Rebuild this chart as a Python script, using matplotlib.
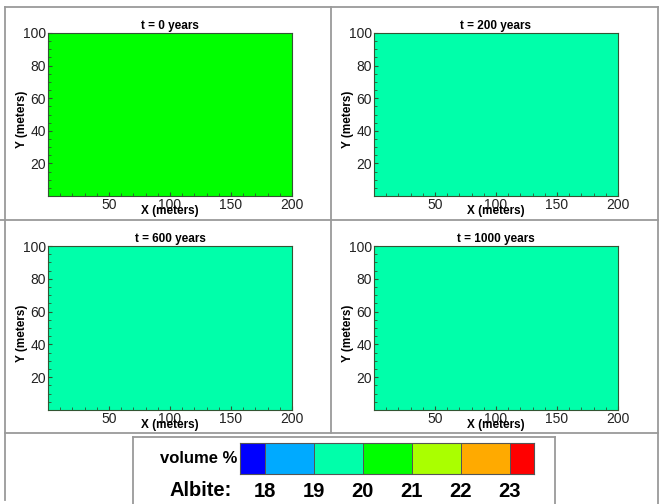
import numpy as np
import matplotlib
matplotlib.use("Agg")
import matplotlib.pyplot as plt
from matplotlib.colors import ListedColormap, BoundaryNorm
from matplotlib.lines import Line2D

plt.rcParams["font.family"] = ["Liberation Sans", "DejaVu Sans"]

# Daten
times = [0, 200, 600, 1000]
albite = [20.5, 19.5, 19.5, 19.5]          # Volumen-% Albit (gleichmaessig im Feld)
levels = [17.5, 18, 19, 20, 21, 22, 23, 23.5]
level_labels = [18, 19, 20, 21, 22, 23]
colors = ["#0000ff", "#00aaff", "#00ffaa", "#00ff00", "#aaff00", "#ffaa00", "#ff0000"]
x_grid = [0, 200]
y_grid = [0, 100]

W, H = 660, 504
cmap = ListedColormap(colors)
norm = BoundaryNorm(levels, cmap.N)

fig = plt.figure(figsize=(W / 100, H / 100), dpi=100)


def box(left, top, right, bottom):
    return [left / W, 1 - bottom / H, (right - left) / W, (bottom - top) / H]


# Rahmenlinien
def fline(xs, ys):
    fig.add_artist(Line2D([x / W for x in xs], [1 - y / H for y in ys],
                          color="#9a9a9a", lw=1.3, transform=fig.transFigure))


fline([5, 658], [7, 7])
fline([5, 5], [7, 500])
fline([658, 658], [7, 504])
fline([331, 331], [7, 433])
fline([0, 658], [220, 220])
fline([5, 658], [433, 433])
fline([133, 133], [437, 504])
fline([555, 555], [437, 504])
fline([133, 555], [437, 437])

panels = [(48, 33, 292, 196), (374, 33, 618, 196),
          (48, 246, 292, 410), (374, 246, 618, 410)]

for (l, t, r, b), tt, val in zip(panels, times, albite):
    ax = fig.add_axes(box(l, t, r, b))
    field = np.full((1, 1), val)
    ax.pcolormesh(x_grid, y_grid, field, cmap=cmap, norm=norm)
    ax.set_xlim(0, 200)
    ax.set_ylim(0, 100)
    ax.set_xticks([50, 100, 150, 200])
    ax.set_yticks([20, 40, 60, 80, 100])
    ax.set_xticks(np.arange(0, 201, 10), minor=True)
    ax.set_yticks(np.arange(0, 101, 5), minor=True)
    ax.tick_params(which="both", direction="in", color="#335533", labelsize=10,
                   labelcolor="#222222", pad=1.5)
    ax.tick_params(which="major", length=3)
    ax.tick_params(which="minor", length=2)
    for s in ax.spines.values():
        s.set_color("#335533")
        s.set_linewidth(0.8)
    ax.set_title(f"t = {tt} years", fontsize=8.5, fontweight="bold", pad=3)
    ax.set_xlabel("X (meters)", fontsize=8.5, fontweight="bold")
    ax.xaxis.label.set_va("center")
    ax.xaxis.set_label_coords(0.5, -15 / (b - t))
    ax.set_ylabel("Y (meters)", fontsize=8.5, fontweight="bold")
    ax.yaxis.label.set_va("center")
    ax.yaxis.set_label_coords(-26 / (r - l), 0.47)

# Farbskala
centers = [(a + b) / 2 for a, b in zip(levels[:-1], levels[1:])]
cax = fig.add_axes(box(240, 443, 534, 474))
cax.pcolormesh(levels, [0, 1], np.array([centers]),
               cmap=cmap, norm=norm, edgecolor="#555555", linewidth=0.6)
cax.set_xlim(levels[0], levels[-1])
cax.set_ylim(0, 1)
cax.set_xticks([])
cax.set_yticks([])
for s in cax.spines.values():
    s.set_color("#555555")
    s.set_linewidth(0.8)
cax.text(-0.01, 0.5, "volume %", transform=cax.transAxes, ha="right", va="center",
         fontsize=12, fontweight="bold")
for v in level_labels:
    cax.text(v, -0.55, str(v), transform=cax.get_xaxis_transform(), ha="center",
             va="center", fontsize=14.5, fontweight="bold")
fig.text(232 / W, 1 - 491 / H, "Albite:", ha="right", va="center",
         fontsize=14.5, fontweight="bold")

fig.savefig("out.png", dpi=100)
